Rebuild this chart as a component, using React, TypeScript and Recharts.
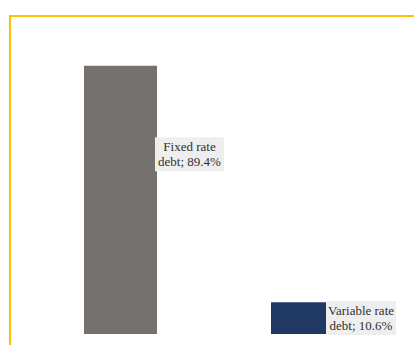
import React from "react";
import { BarChart, Bar, XAxis, YAxis, Cell, LabelList } from "recharts";

const categories = ["Fixed rate debt", "Variable rate debt"];
const shares = [89.4, 10.6];
const labelLines = [
  ["Fixed rate", "debt; 89.4%"],
  ["Variable rate", "debt; 10.6%"],
];
const colors = ["#75716E", "#1F3864"];

const data = categories.map((name, i) => ({ name, value: shares[i] }));

// label box placement relative to its bar
const labelPlacement = [
  { fromRight: -2, fy: 0.33, w: 69 },
  { fromRight: -18, fy: 0.5, w: 70 },
];

const renderLabel = (props: any) => {
  const { x, y, width, height, index } = props;
  const lines = labelLines[index];
  const p = labelPlacement[index];
  const left = x + width + p.fromRight;
  const cy = y + height * p.fy;
  const h = 34;
  return (
    <g>
      <rect x={left} y={cy - h / 2} width={p.w} height={h} fill="#EEEEEE" />
      {lines.map((t, k) => (
        <text
          key={k}
          x={left + p.w / 2}
          y={cy - 7.5 + k * 15}
          textAnchor="middle"
          dominantBaseline="central"
          fontFamily="Liberation Serif, serif"
          fontSize={13}
          fill="#303030"
        >
          {t}
        </text>
      ))}
    </g>
  );
};

export default function App() {
  return (
    <div
      style={{
        position: "absolute",
        left: 0,
        top: 0,
        width: 414,
        height: 345,
        background: "#fff",
        overflow: "hidden",
      }}
    >
      <div
        style={{
          position: "absolute",
          left: 9,
          top: 15,
          width: 420,
          height: 340,
          borderTop: "2px solid #FFC000",
          borderLeft: "2px solid #FFC000",
        }}
      />
      <div style={{ position: "absolute", left: 0, top: 0 }}>
        <BarChart
          width={414}
          height={345}
          data={data}
          margin={{ top: 34, right: 13, bottom: 11, left: 27 }}
          barCategoryGap={57}
        >
          <XAxis dataKey="name" hide />
          <YAxis domain={[0, 100]} hide />
          <Bar dataKey="value" isAnimationActive={false}>
            {data.map((d, i) => (
              <Cell key={i} fill={colors[i]} />
            ))}
            <LabelList dataKey="value" content={renderLabel} />
          </Bar>
        </BarChart>
      </div>
    </div>
  );
}
